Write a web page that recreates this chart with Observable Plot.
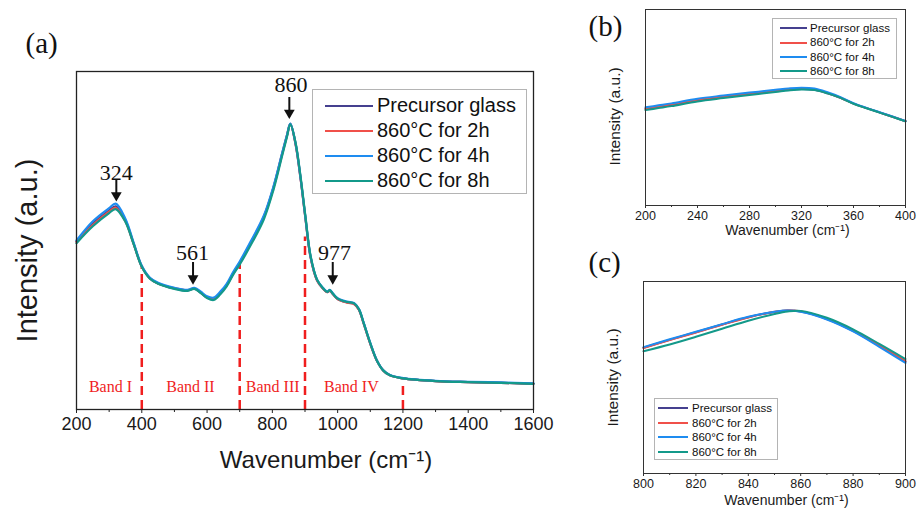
<!DOCTYPE html>
<html><head><meta charset="utf-8">
<script src="https://cdn.jsdelivr.net/npm/d3@7"></script>
<script src="https://cdn.jsdelivr.net/npm/@observablehq/plot@0.6"></script>
<style>
body{margin:0;background:#fff;}
#wrap{position:relative;width:917px;height:509px;overflow:hidden;background:#fff;font-family:"Liberation Sans",Arial,sans-serif;}
.panel{position:absolute;}
.legend{position:absolute;border:1px solid #b4b4b4;background:#fff;box-sizing:border-box;color:#111;}
.row{display:flex;align-items:center;white-space:nowrap;}
.swatch{display:inline-block;height:0;}
</style></head><body><div id="wrap"></div>
<script>
// ---------- shared ----------
const seriesNames = ["Precursor glass", "860°C for 2h", "860°C for 4h", "860°C for 8h"];
const seriesColors = ["#45408f", "#f0504a", "#1e8cf0", "#13998a"];

// ---------- panel (a) ----------
const waveA = [200,250,300,320,350,375,400,425,450,500,540,561,580,600,620,640,660,680,700,733,774,804,830,845,855,871,886,901,917,937,955,968,976,985,1000,1029,1050,1065,1080,1100,1120,1140,1160,1200,1300,1400,1500,1600];
const precursorA = [49.7,55.0,58.9,60.1,55.9,49.1,42.3,38.8,37.3,35.8,35.2,35.8,34.6,33.1,32.7,34.3,36.7,40.2,43.3,49.0,56.9,65.8,75.6,81.1,84.5,78.6,68.7,56.9,45.1,38.2,35.8,34.7,35.2,34.2,32.7,31.7,31.3,29.6,25.4,19.5,14.5,11.5,10.1,9.2,8.4,8.1,7.9,7.6];
const h2A = [49.6,54.6,58.5,59.7,55.6,49.0,42.3,38.8,37.3,35.9,35.3,35.8,34.7,33.2,32.8,34.4,36.8,40.3,43.4,49.2,57.1,65.9,75.7,81.2,84.5,78.5,68.6,56.8,45.0,38.1,35.8,34.7,35.1,34.2,32.7,31.6,31.2,29.5,25.3,19.4,14.5,11.5,10.1,9.2,8.4,8.1,7.9,7.6];
const h4A = [50.0,55.7,59.6,60.9,56.4,49.4,42.5,39.0,37.5,36.0,35.4,36.0,34.9,33.5,33.1,34.8,37.2,40.7,43.8,49.6,57.4,66.2,75.9,81.3,84.6,78.8,68.9,57.1,45.3,38.4,36.0,34.9,35.4,34.4,32.9,31.9,31.5,29.8,25.6,19.7,14.6,11.6,10.2,9.3,8.5,8.2,8.0,7.7];
const h8A = [49.2,54.2,58.1,59.3,55.5,48.9,42.2,38.7,37.2,35.7,35.1,35.7,34.5,33.0,32.4,34.0,36.4,39.9,42.9,48.5,56.3,65.2,75.1,80.8,84.4,79.0,69.2,57.4,45.5,38.4,35.9,34.8,35.3,34.3,32.8,31.8,31.4,29.7,25.5,19.6,14.5,11.5,10.1,9.2,8.4,8.1,7.9,7.6];
const majorTicksA = [200,400,600,800,1000,1200,1400,1600];
const minorTicksA = [300,500,700,900,1100,1300,1500];

const bandEdgeX = [400, 700, 900, 1200];
const bandEdgeTop = [42.6, 43.5, 51.0, 8.1];
const bandNames = ["Band I", "Band II", "Band III", "Band IV"];
const bandLabelX = [304, 549, 801, 1042];
const bandLabelY = [6.7, 6.7, 6.7, 6.7];

const peakNames = ["324", "561", "860", "977"];
const peakLabelX = [322, 555, 857, 990];
const peakLabelY = [70.1, 46.4, 95.9, 46.2];
const peakArrowX = [322, 557, 852, 985];
const peakArrowTop = [67.8, 43.5, 92.3, 43.5];
const peakArrowTip = [62.2, 37.6, 86.6, 37.6];

// ---------- panel (b) ----------
const waveB = [200,210,220,240,260,280,300,310,320,330,340,350,360,370,380,390,400];
const precursorB = [49.3,50.3,51.3,53.7,55.3,56.9,58.3,59.0,59.4,59.0,57.3,55.0,52.0,49.7,47.5,45.3,43.0];
const h2B = [49.5,50.5,51.6,54.0,55.6,57.2,58.6,59.3,59.6,59.2,57.4,55.0,52.0,49.7,47.5,45.3,43.0];
const h4B = [50.1,51.1,52.1,54.5,56.1,57.6,59.0,59.7,60.1,59.7,57.8,55.3,52.2,49.8,47.6,45.4,43.1];
const h8B = [48.7,49.7,50.7,53.1,54.8,56.4,57.9,58.7,59.2,58.9,57.2,54.9,51.9,49.6,47.4,45.2,42.9];
const majorTicksB = [200,240,280,320,360,400];
const minorTicksB = [220,260,300,340,380];

// ---------- panel (c) ----------
const waveC = [800,810,820,830,840,850,855,860,870,880,890,900];
const precursorC = [65.5,69.6,73.6,77.6,81.4,84.1,84.9,84.4,80.5,74.3,66.5,58.3];
const h2C = [65.3,69.5,73.4,77.5,81.3,84.2,84.9,84.5,80.6,74.6,66.9,58.6];
const h4C = [65.8,69.9,73.8,77.8,81.6,84.3,84.9,84.2,80.2,74.0,66.0,57.6];
const h8C = [63.7,67.2,71.2,75.4,79.6,83.1,84.4,84.7,81.1,75.1,67.5,59.6];
const majorTicksC = [800,820,840,860,880,900];
const minorTicksC = [810,830,850,870,890];

// ---------- helpers ----------
const serif = "Liberation Serif, Times New Roman, serif";
const sans = "Liberation Sans, Arial, sans-serif";
function toRows(wave, arrays) {
  return arrays.flatMap((arr, si) => arr.map((v, i) => ({x: wave[i], y: v, s: seriesNames[si]})));
}
const wrap = document.getElementById("wrap");
function place(node, left, top) {
  const d = document.createElement("div");
  d.className = "panel";
  d.style.left = left + "px"; d.style.top = top + "px";
  d.appendChild(node);
  wrap.appendChild(d);
}
function legend(left, top, w, h, pad, rowH, swOff, swW, gap, fs, lw) {
  const L = document.createElement("div");
  L.className = "legend";
  Object.assign(L.style, {left: left + "px", top: top + "px", width: w + "px", height: h + "px", paddingTop: pad + "px"});
  seriesNames.forEach((n, i) => {
    const r = document.createElement("div");
    r.className = "row"; r.style.height = rowH + "px";
    const sw = document.createElement("span");
    sw.className = "swatch";
    Object.assign(sw.style, {width: swW + "px", marginLeft: swOff + "px", borderTop: lw + "px solid " + seriesColors[i]});
    const t = document.createElement("span");
    t.textContent = n;
    Object.assign(t.style, {marginLeft: gap + "px", fontSize: fs + "px", lineHeight: rowH + "px"});
    r.appendChild(sw); r.appendChild(t);
    L.appendChild(r);
  });
  wrap.appendChild(L);
}
const fmt = d3.format("d");

// ---------- panel (a) plot ----------
const plotA = Plot.plot({
  width: 560, height: 509,
  marginLeft: 76, marginRight: 27, marginTop: 71, marginBottom: 100,
  style: {fontFamily: sans, color: "#1a1a1a", background: "transparent", overflow: "visible"},
  x: {domain: [200, 1600], label: null},
  y: {domain: [0, 100], axis: null, label: null},
  color: {domain: seriesNames, range: seriesColors},
  marks: [
    Plot.ruleX(bandEdgeX, {x: d => d, y1: 0, y2: (d, i) => bandEdgeTop[i], stroke: "#f01e1e", strokeWidth: 2.5, strokeDasharray: "9,5"}),
    Plot.line(toRows(waveA, [precursorA, h2A, h4A, h8A]), {x: "x", y: "y", z: "s", stroke: "s", strokeWidth: 2.2, curve: "catmull-rom"}),
    Plot.text(bandNames, {x: (d, i) => bandLabelX[i], y: (d, i) => bandLabelY[i], text: d => d, fill: "#f01e1e", fontFamily: serif, fontSize: 16}),
    Plot.text(peakNames, {x: (d, i) => peakLabelX[i], y: (d, i) => peakLabelY[i], text: d => d, fill: "#111", fontFamily: serif, fontSize: 22}),
    Plot.ruleX(peakArrowX, {x: d => d, y1: (d, i) => peakArrowTop[i], y2: (d, i) => peakArrowTip[i], stroke: "#111", strokeWidth: 2}),
    Plot.dot(peakArrowX, {x: d => d, y: (d, i) => peakArrowTip[i], symbol: "triangle", rotate: 180, r: 4, fill: "#111", stroke: "none", dy: -4}),
    Plot.frame({stroke: "#222", strokeWidth: 1.3}),
    Plot.axisX({ticks: majorTicksA, tickSize: 4, tickPadding: 4, fontSize: 18, tickFormat: fmt, label: null, stroke: "#222"}),
    Plot.axisX({ticks: minorTicksA, tickSize: 3, tickFormat: () => "", label: null, stroke: "#222"}),
    Plot.text(["Wavenumber (cm⁻¹)"], {frameAnchor: "bottom", dx: 21, dy: 51, lineAnchor: "middle", fontSize: 24, fill: "#1a1a1a"}),
    Plot.text(["Intensity (a.u.)"], {frameAnchor: "left", rotate: -90, dx: -49, dy: 10, lineAnchor: "middle", textAnchor: "middle", fontSize: 29, fill: "#1a1a1a"}),
    Plot.text(["(a)"], {frameAnchor: "top-left", dx: -51, dy: -28, textAnchor: "start", lineAnchor: "middle", fontFamily: serif, fontSize: 29, fill: "#111"})
  ]
});
place(plotA, 0, 0);
legend(312, 89, 215, 105, 3, 25, 12, 48, 4, 20, 2);

// ---------- panel (b) plot ----------
const plotB = Plot.plot({
  width: 337, height: 250,
  marginLeft: 65, marginRight: 12, marginTop: 9, marginBottom: 45,
  style: {fontFamily: sans, color: "#1a1a1a", background: "transparent", overflow: "visible"},
  x: {domain: [200, 400], label: null},
  y: {domain: [0, 100], axis: null, label: null},
  color: {domain: seriesNames, range: seriesColors},
  marks: [
    Plot.line(toRows(waveB, [precursorB, h2B, h4B, h8B]), {x: "x", y: "y", z: "s", stroke: "s", strokeWidth: 2, curve: "catmull-rom"}),
    Plot.frame({stroke: "#333", strokeWidth: 1}),
    Plot.axisX({ticks: majorTicksB, tickSize: 3, tickPadding: 3, fontSize: 12.5, tickFormat: fmt, label: null, stroke: "#333"}),
    Plot.axisX({ticks: minorTicksB, tickSize: 2, tickFormat: () => "", label: null, stroke: "#333"}),
    Plot.text(["Wavenumber (cm⁻¹)"], {frameAnchor: "bottom", dx: 12, dy: 25, lineAnchor: "middle", fontSize: 14, fill: "#1a1a1a"}),
    Plot.text(["Intensity (a.u.)"], {frameAnchor: "left", rotate: -90, dx: -30, dy: 9, lineAnchor: "middle", textAnchor: "middle", fontSize: 15.5, fill: "#1a1a1a"}),
    Plot.text(["(b)"], {frameAnchor: "top-left", dx: -57, dy: 17, textAnchor: "start", lineAnchor: "middle", fontFamily: serif, fontSize: 29, fill: "#111"})
  ]
});
place(plotB, 580, 0);
legend(772, 18, 125, 61, 2, 14.4, 7, 27, 3, 11.5, 2);

// ---------- panel (c) plot ----------
const plotC = Plot.plot({
  width: 337, height: 259,
  marginLeft: 63, marginRight: 12, marginTop: 31, marginBottom: 36,
  style: {fontFamily: sans, color: "#1a1a1a", background: "transparent", overflow: "visible"},
  x: {domain: [800, 900], label: null},
  y: {domain: [0, 100], axis: null, label: null},
  color: {domain: seriesNames, range: seriesColors},
  marks: [
    Plot.line(toRows(waveC, [precursorC, h2C, h4C, h8C]), {x: "x", y: "y", z: "s", stroke: "s", strokeWidth: 2, curve: "catmull-rom"}),
    Plot.frame({stroke: "#333", strokeWidth: 1}),
    Plot.axisX({ticks: majorTicksC, tickSize: 3, tickPadding: 3, fontSize: 12.5, tickFormat: fmt, label: null, stroke: "#333"}),
    Plot.axisX({ticks: minorTicksC, tickSize: 2, tickFormat: () => "", label: null, stroke: "#333"}),
    Plot.text(["Wavenumber (cm⁻¹)"], {frameAnchor: "bottom", dx: 12, dy: 27, lineAnchor: "middle", fontSize: 14, fill: "#1a1a1a"}),
    Plot.text(["Intensity (a.u.)"], {frameAnchor: "left", rotate: -90, dx: -30, dy: 0, lineAnchor: "middle", textAnchor: "middle", fontSize: 15.5, fill: "#1a1a1a"}),
    Plot.text(["(c)"], {frameAnchor: "top-left", dx: -55, dy: -19, textAnchor: "start", lineAnchor: "middle", fontFamily: serif, fontSize: 29, fill: "#111"})
  ]
});
place(plotC, 580, 250);
legend(654, 398, 124, 62, 2, 14.6, 3, 30, 4, 11.5, 2);
</script></body></html>
